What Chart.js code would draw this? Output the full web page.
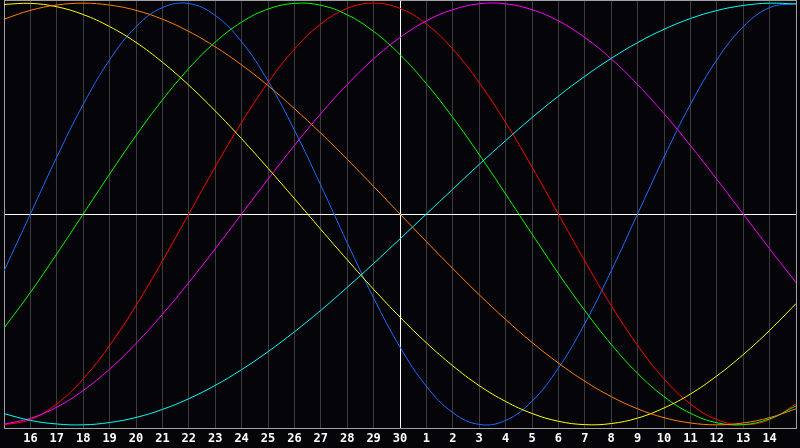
<!DOCTYPE html>
<html>
<head>
<meta charset="utf-8">
<script src="https://cdn.jsdelivr.net/npm/chart.js@4/dist/chart.umd.min.js"></script>
<style>
    html, body { margin: 0; padding: 0; background: #050408; }
    #wrap { width: 800px; height: 448px; }
</style>
</head>
<body>
<div id="wrap"><canvas id="bio" width="800" height="448"></canvas></div>
<script>
// day positions run from -1 (the 15th) to 29 (the 15th of next month)
const dayIndex = [-1, 0, 1, 2, 3, 4, 5, 6, 7, 8, 9, 10, 11, 12, 13, 14, 15, 16, 17, 18, 19, 20, 21, 22, 23, 24, 25, 26, 27, 28, 29];
const dayLabels = ['16', '17', '18', '19', '20', '21', '22', '23', '24', '25', '26', '27', '28', '29', '30',
                   '1', '2', '3', '4', '5', '6', '7', '8', '9', '10', '11', '12', '13', '14'];
const todayIndex = 14;

// values, one per day
const physical = [-0.270, 0, 0.270, 0.520, 0.731, 0.888, 0.979, 0.998, 0.942, 0.817, 0.631, 0.398, 0.136, -0.136, -0.398, -0.631,
                  -0.817, -0.942, -0.998, -0.979, -0.888, -0.731, -0.520, -0.270, 0, 0.270, 0.520, 0.731, 0.888, 0.979, 0.998];
const emotional = [-1.000, -0.975, -0.901, -0.782, -0.623, -0.434, -0.223, 0, 0.223, 0.434, 0.623, 0.782, 0.901, 0.975, 1.000, 0.975,
                   0.901, 0.782, 0.623, 0.434, 0.223, 0, -0.223, -0.434, -0.623, -0.782, -0.901, -0.975, -1.000, -0.975, -0.901];
const intellectual = [-0.541, -0.372, -0.189, 0, 0.189, 0.372, 0.541, 0.690, 0.815, 0.910, 0.972, 0.999, 0.990, 0.945, 0.866, 0.756,
                      0.618, 0.458, 0.282, 0.095, -0.095, -0.282, -0.458, -0.618, -0.756, -0.866, -0.945, -0.990, -0.999, -0.972, -0.910];
const intuitive = [-0.997, -0.969, -0.916, -0.837, -0.736, -0.614, -0.476, -0.325, -0.165, 0, 0.165, 0.325, 0.476, 0.614, 0.736, 0.837,
                   0.916, 0.969, 0.997, 0.997, 0.969, 0.916, 0.837, 0.736, 0.614, 0.476, 0.325, 0.165, 0, -0.165, -0.325];
const aesthetic = [0.994, 0.999, 0.983, 0.946, 0.889, 0.814, 0.720, 0.611, 0.489, 0.357, 0.217, 0.073, -0.073, -0.217, -0.357, -0.489,
                   -0.611, -0.720, -0.814, -0.889, -0.946, -0.983, -0.999, -0.994, -0.968, -0.920, -0.854, -0.768, -0.667, -0.552, -0.425];
const awareness = [0.924, 0.966, 0.991, 1.000, 0.991, 0.966, 0.924, 0.866, 0.793, 0.707, 0.609, 0.500, 0.383, 0.259, 0.131, 0,
                   -0.131, -0.259, -0.383, -0.500, -0.609, -0.707, -0.793, -0.866, -0.924, -0.966, -0.991, -1.000, -0.991, -0.966, -0.924];
const spiritual = [-0.947, -0.979, -0.996, -1.000, -0.989, -0.965, -0.927, -0.876, -0.813, -0.738, -0.653, -0.559, -0.457, -0.348, -0.235, -0.118,
                   0, 0.118, 0.235, 0.348, 0.457, 0.559, 0.653, 0.738, 0.813, 0.876, 0.927, 0.965, 0.989, 1.000, 0.996];

const series = [
    { name: 'Spiritual', values: spiritual, color: '#00ffff' },
    { name: 'Awareness', values: awareness, color: '#ff7f00' },
    { name: 'Aesthetic', values: aesthetic, color: '#ffff00' },
    { name: 'Intuitive', values: intuitive, color: '#ff00ff' },
    { name: 'Intellectual', values: intellectual, color: '#00ff00' },
    { name: 'Emotional', values: emotional, color: '#ff0000' },
    { name: 'Physical', values: physical, color: '#1a6cff' }
];

// paint the dark background behind the plot
const background = {
    id: 'background',
    beforeDraw(chart) {
        const ctx = chart.ctx;
        ctx.save();
        ctx.fillStyle = '#050408';
        ctx.fillRect(0, 0, chart.width, chart.height);
        ctx.restore();
    }
};

const datasets = series.map(s => ({
    label: s.name,
    data: dayIndex.map((d, i) => ({ x: d, y: s.values[i] })),
    borderColor: s.color,
    borderWidth: 1,
    pointRadius: 0,
    fill: false,
    tension: 0.4
}));

new Chart(document.getElementById('bio').getContext('2d'), {
    type: 'line',
    data: { datasets },
    plugins: [background],
    options: {
        responsive: false,
        animation: false,
        layout: { padding: { left: 0, right: 1, top: 0, bottom: 0 } },
        plugins: {
            legend: { display: false },
            tooltip: { enabled: false }
        },
        scales: {
            x: {
                type: 'linear',
                min: -1,
                max: 29,
                // keep the label strip 20px tall, labels sit a bit low in it
                afterFit: axis => { axis.height = 20; },
                ticks: {
                    stepSize: 1,
                    autoSkip: false,
                    maxRotation: 0,
                    padding: 4,
                    color: '#ffffff',
                    font: { family: 'DejaVu Sans Mono', size: 12, weight: 'bold' },
                    callback: value => dayLabels[value] || ''
                },
                grid: {
                    drawTicks: false,
                    color: ctx => {
                        const v = ctx.tick ? ctx.tick.value : null;
                        if (v === todayIndex) return '#ffffff';
                        if (v === -1 || v === 29) return '#a0a0a0';
                        return '#3c3c3c';
                    }
                },
                border: { display: true, color: '#a0a0a0', width: 1 }
            },
            y: {
                min: -1.015,
                max: 1.015,
                afterBuildTicks: axis => {
                    axis.ticks = [{ value: -1.015 }, { value: 0 }, { value: 1.015 }];
                },
                ticks: { display: false },
                grid: {
                    drawTicks: false,
                    color: ctx => (ctx.tick && ctx.tick.value === 0) ? '#ffffff' : '#a0a0a0'
                },
                border: { display: true, color: '#a0a0a0', width: 1 }
            }
        }
    }
});
</script>
</body>
</html>
